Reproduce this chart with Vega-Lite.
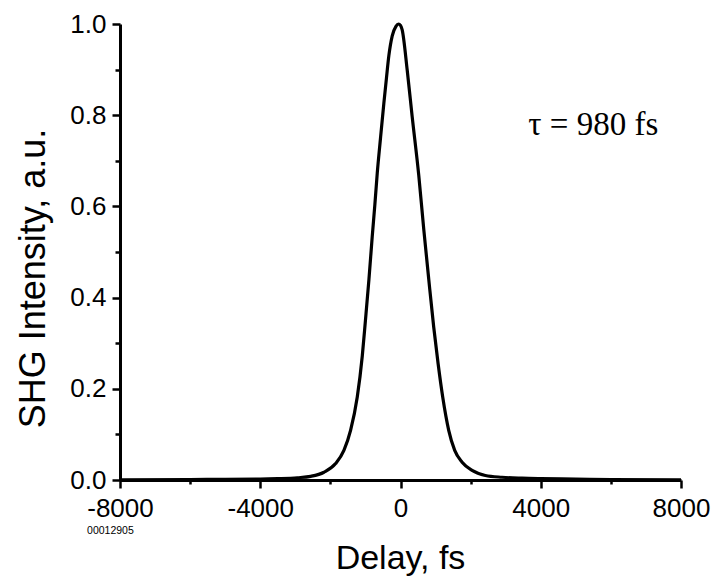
{
  "$schema": "https://vega.github.io/schema/vega-lite/v6.json",
  "width": 561,
  "height": 456,
  "autosize": {"type": "none"},
  "padding": {"left": 120, "top": 24, "right": 36, "bottom": 102},
  "background": "white",
  "config": {
    "view": {"stroke": null},
    "axis": {
      "labelFont": "Liberation Sans",
      "titleFont": "Liberation Sans",
      "labelColor": "black",
      "titleColor": "black",
      "domainColor": "black",
      "tickColor": "black",
      "grid": false,
      "titleFontWeight": "normal"
    }
  },
  "datasets": {
    "trace": [
      {"delay": -8000, "shg": 0.0005},
      {"delay": -6000, "shg": 0.001},
      {"delay": -5000, "shg": 0.0015},
      {"delay": -4000, "shg": 0.002},
      {"delay": -3500, "shg": 0.003},
      {"delay": -2941, "shg": 0.005},
      {"delay": -2562, "shg": 0.008},
      {"delay": -2184, "shg": 0.017},
      {"delay": -1851, "shg": 0.036},
      {"delay": -1614, "shg": 0.065},
      {"delay": -1424, "shg": 0.109},
      {"delay": -1233, "shg": 0.182},
      {"delay": -1090, "shg": 0.272},
      {"delay": -1000, "shg": 0.350},
      {"delay": -900, "shg": 0.440},
      {"delay": -806, "shg": 0.534},
      {"delay": -730, "shg": 0.605},
      {"delay": -663, "shg": 0.673},
      {"delay": -570, "shg": 0.750},
      {"delay": -475, "shg": 0.826},
      {"delay": -400, "shg": 0.882},
      {"delay": -333, "shg": 0.930},
      {"delay": -236, "shg": 0.974},
      {"delay": -130, "shg": 0.995},
      {"delay": -57, "shg": 1.0},
      {"delay": 0, "shg": 0.997},
      {"delay": 48, "shg": 0.987},
      {"delay": 191, "shg": 0.899},
      {"delay": 333, "shg": 0.797},
      {"delay": 521, "shg": 0.668},
      {"delay": 663, "shg": 0.550},
      {"delay": 806, "shg": 0.440},
      {"delay": 948, "shg": 0.335},
      {"delay": 1073, "shg": 0.255},
      {"delay": 1204, "shg": 0.182},
      {"delay": 1375, "shg": 0.109},
      {"delay": 1546, "shg": 0.065},
      {"delay": 1757, "shg": 0.039},
      {"delay": 2041, "shg": 0.021},
      {"delay": 2420, "shg": 0.010},
      {"delay": 2895, "shg": 0.006},
      {"delay": 3465, "shg": 0.004},
      {"delay": 4000, "shg": 0.003},
      {"delay": 5000, "shg": 0.002},
      {"delay": 6000, "shg": 0.001},
      {"delay": 8000, "shg": 0.0005}
    ],
    "notes": [
      {"delay": 3644, "shg": 0.757, "label": "τ = 980 fs"}
    ],
    "code": [
      {"delay": -8940, "shg": -0.1184, "label": "00012905"}
    ]
  },
  "layer": [
    {
      "data": {"name": "trace"},
      "mark": {"type": "line", "color": "black", "strokeWidth": 3.2, "interpolate": "monotone"},
      "encoding": {
        "x": {
          "field": "delay",
          "type": "quantitative",
          "scale": {"domain": [-8000, 8000], "nice": false, "zero": false},
          "axis": {
            "title": "Delay, fs",
            "titleFontSize": 34,
            "titleX": 280,
            "titleY": 88,
            "titleBaseline": "alphabetic",
            "titleAnchor": null,
            "values": [-8000, -6000, -4000, -2000, 0, 2000, 4000, 6000, 8000],
            "labelExpr": "datum.value % 4000 == 0 ? '' + datum.value : ''",
            "labelFontSize": 26,
            "labelFlush": false,
            "labelOverlap": false,
            "labelBound": false,
            "labelPadding": 7,
            "domainWidth": 3,
            "tickWidth": 2.5,
            "tickSize": {"condition": {"test": "datum.value % 4000 == 0", "value": 8}, "value": 4}
          }
        },
        "y": {
          "field": "shg",
          "type": "quantitative",
          "scale": {"domain": [0, 1], "nice": false},
          "axis": {
            "title": "SHG Intensity, a.u.",
            "titleFontSize": 36,
            "titleAngle": 270,
            "titleX": -76,
            "titleY": 254,
            "titleAlign": "center",
            "titleBaseline": "alphabetic",
            "titleAnchor": null,
            "values": [0, 0.1, 0.2, 0.3, 0.4, 0.5, 0.6, 0.7, 0.8, 0.9, 1.0],
            "labelExpr": "round(datum.value * 10) % 2 == 0 ? format(datum.value, '.1f') : ''",
            "labelFontSize": 26,
            "labelFlush": false,
            "labelOverlap": false,
            "labelBound": false,
            "labelPadding": 6,
            "domainWidth": 3,
            "tickWidth": 2.5,
            "tickSize": {"condition": {"test": "round(datum.value * 10) % 2 == 0", "value": 8}, "value": 5}
          }
        }
      }
    },
    {
      "data": {"name": "notes"},
      "mark": {"type": "text", "font": "Liberation Serif", "fontSize": 33, "align": "left", "baseline": "alphabetic", "color": "black"},
      "encoding": {
        "x": {"field": "delay", "type": "quantitative"},
        "y": {"field": "shg", "type": "quantitative"},
        "text": {"field": "label"}
      }
    },
    {
      "data": {"name": "code"},
      "mark": {"type": "text", "font": "Liberation Sans", "fontSize": 10.5, "align": "left", "baseline": "alphabetic", "color": "black"},
      "encoding": {
        "x": {"field": "delay", "type": "quantitative"},
        "y": {"field": "shg", "type": "quantitative"},
        "text": {"field": "label"}
      }
    }
  ]
}
